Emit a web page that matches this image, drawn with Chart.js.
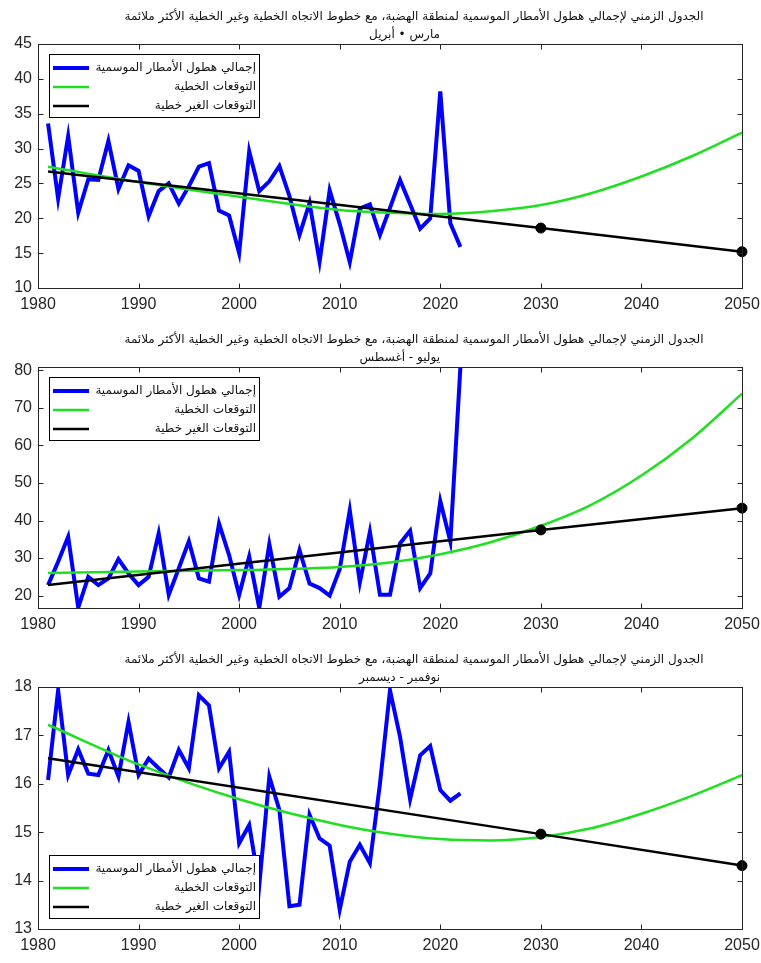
<!DOCTYPE html>
<html>
<head>
<meta charset="utf-8">
<script src="https://cdn.jsdelivr.net/npm/chart.js@4.4.1/dist/chart.umd.min.js"></script>
<style>
  html, body { margin: 0; padding: 0; background: #ffffff; }
  #wrap { position: relative; width: 761px; height: 963px; overflow: hidden; }
  #wrap canvas { position: absolute; left: 0; }
</style>
</head>
<body>
<div id="wrap">
  <canvas id="c1" width="761" height="320" style="top:0px"></canvas>
  <canvas id="c2" width="761" height="320" style="top:320px"></canvas>
  <canvas id="c3" width="761" height="323" style="top:640px"></canvas>
</div>
<script>
// ---- observed seasons ----
const years = [1981,1982,1983,1984,1985,1986,1987,1988,1989,1990,
               1991,1992,1993,1994,1995,1996,1997,1998,1999,2000,
               2001,2002,2003,2004,2005,2006,2007,2008,2009,2010,
               2011,2012,2013,2014,2015,2016,2017,2018,2019,2020,
               2021,2022];

// March - April seasonal totals
const marAprTotal = [33.6,22.8,31.8,20.8,25.6,25.5,31.1,24.2,27.6,26.8,
                     20.3,23.9,25.0,22.1,24.6,27.4,27.9,21.1,20.4,15.0,
                     29.6,23.9,25.3,27.5,23.2,17.6,22.2,13.8,24.0,19.2,
                     13.7,21.4,22.0,17.6,21.5,25.5,22.0,18.5,20.0,38.2,
                     19.3,15.9];

// July - August seasonal totals
const julAugTotal = [22.8,29.0,35.7,16.8,25.0,22.8,24.6,29.7,25.9,22.8,
                     25.0,36.6,20.2,27.3,34.5,24.6,23.7,39.2,30.8,20.2,
                     30.4,16.7,33.7,19.7,22.0,32.1,23.2,22.0,20.0,27.0,
                     42.7,23.5,37.0,20.2,20.2,33.9,37.3,22.0,25.9,45.2,
                     34.4,80.9];

// November - December seasonal totals
const novDecTotal = [16.08,17.93,16.18,16.71,16.21,16.18,16.70,16.15,17.28,16.18,
                     16.52,16.32,16.13,16.70,16.32,17.83,17.62,16.32,16.66,14.77,
                     15.15,13.90,16.15,15.46,13.47,13.50,15.36,14.87,14.72,13.40,
                     14.39,14.74,14.36,16.00,17.93,16.97,15.68,16.59,16.78,15.87,
                     15.65,15.80];

// ---- fitted curve (green) ----
const curveYears = [1981,1990,2000,2010,2015,2020,2025,2030,2035,2040,2045,2050];
const marAprCurve = [27.4,25.2,23.1,21.2,20.8,20.6,21.0,21.9,23.6,26.0,28.9,32.3];
const julAugCurve = [26.0,26.4,26.8,27.6,28.8,31.0,34.2,38.6,44.2,52.0,61.8,73.8];
const novDecCurve = [17.22,16.40,15.68,15.15,14.97,14.86,14.83,14.90,15.08,15.38,15.75,16.18];

// ---- straight trend (black), marked at the projection years ----
const trendYears = [1981,2030,2050];
const markedYears = [2030,2050];
const marAprTrend = [26.7,18.6,15.2];
const julAugTrend = [22.8,37.5,43.3];
const novDecTrend = [16.53,14.96,14.31];

// ---- axes ----
const xTicks = [1980,1990,2000,2010,2020,2030,2040,2050];
const marAprTicks = [10,15,20,25,30,35,40,45];
const julAugTicks = [20,30,40,50,60,70,80];
const novDecTicks = [13,14,15,16,17,18];

// ---- text ----
const mainTitle = 'الجدول الزمني لإجمالي هطول الأمطار الموسمية لمنطقة الهضبة، مع خطوط الاتجاه الخطية وغير الخطية الأكثر ملائمة';
const seasonNames = ['مارس • أبريل', 'يوليو - أغسطس', 'نوفمبر - ديسمبر'];
const seriesNames = ['إجمالي هطول الأمطار الموسمية', 'التوقعات الخطية', 'التوقعات الغير خطية'];

const AXIS_COLOR = '#262626';
const NUM_FONT = '"Liberation Sans", Arial, sans-serif';
const AR_FONT = '"DejaVu Sans", "Noto Sans", sans-serif';

const pairs = (xs, ys) => xs.map((x, i) => ({ x: x, y: ys[i] }));

// Box with inward ticks on all four sides, legend box, two-line heading
const panelDecor = {
  id: 'panelDecor',
  afterDatasetsDraw(chart, args, opts) {
    const ctx = chart.ctx;
    const a = chart.chartArea;
    const xs = chart.scales.x, ys = chart.scales.y;
    const L = Math.round(a.left) + 0.5, R = Math.round(a.right) + 0.5;
    const T = Math.round(a.top) + 0.5, B = Math.round(a.bottom) + 0.5;
    ctx.save();

    // legend
    const lgTop = opts.legendAtBottom ? Math.round(a.bottom) - 11 - 63 : Math.round(a.top) + 10;
    const lgLeft = 49.5, lgRight = 259.5, lgH = 63;
    ctx.fillStyle = '#ffffff';
    ctx.fillRect(lgLeft, lgTop + 0.5, lgRight - lgLeft, lgH);
    ctx.strokeStyle = '#000000';
    ctx.lineWidth = 1;
    ctx.strokeRect(lgLeft, lgTop + 0.5, lgRight - lgLeft, lgH);
    chart.data.datasets.forEach((ds, i) => {
      const rowY = lgTop + 14 + i * 19;
      ctx.strokeStyle = ds.borderColor;
      ctx.lineWidth = ds.borderWidth;
      ctx.beginPath();
      ctx.moveTo(53, rowY);
      ctx.lineTo(89, rowY);
      ctx.stroke();
      ctx.fillStyle = '#111111';
      ctx.font = '12px ' + AR_FONT;
      ctx.direction = 'rtl';
      ctx.textAlign = 'right';
      ctx.textBaseline = 'middle';
      ctx.fillText(ds.label, 256, rowY);
    });

    // frame
    ctx.strokeStyle = AXIS_COLOR;
    ctx.lineWidth = 1;
    ctx.strokeRect(L, T, R - L, B - T);
    const tl = 5;
    ctx.beginPath();
    xs.ticks.forEach(t => {
      const px = Math.round(xs.getPixelForValue(t.value)) + 0.5;
      ctx.moveTo(px, B); ctx.lineTo(px, B - tl);
      ctx.moveTo(px, T); ctx.lineTo(px, T + tl);
    });
    ys.ticks.forEach(t => {
      const py = Math.round(ys.getPixelForValue(t.value)) + 0.5;
      ctx.moveTo(L, py); ctx.lineTo(L + tl, py);
      ctx.moveTo(R, py); ctx.lineTo(R - tl, py);
    });
    ctx.stroke();

    // heading
    ctx.fillStyle = '#111111';
    ctx.font = '12px ' + AR_FONT;
    ctx.direction = 'rtl';
    ctx.textBaseline = 'middle';
    ctx.textAlign = 'center';
    ctx.fillText(mainTitle, 414, a.top - 27);
    ctx.textAlign = 'right';
    ctx.fillText(opts.season, 440, a.top - 9);
    ctx.restore();
  }
};

function makePanel(canvasId, cfg) {
  const canvas = document.getElementById(canvasId);
  const H = canvas.height;
  return new Chart(canvas, {
    type: 'line',
    data: {
      datasets: [
        {
          label: seriesNames[0],
          data: pairs(years, cfg.total),
          borderColor: '#0000ff',
          borderWidth: 4,
          pointRadius: 0,
          tension: 0,
          order: 3
        },
        {
          label: seriesNames[1],
          data: pairs(curveYears, cfg.curve),
          borderColor: '#1fe01f',
          borderWidth: 2.5,
          pointRadius: 0,
          cubicInterpolationMode: 'monotone',
          order: 2
        },
        {
          label: seriesNames[2],
          data: pairs(trendYears, cfg.trend),
          borderColor: '#000000',
          backgroundColor: '#000000',
          borderWidth: 2.5,
          pointRadius: c => (c.raw && markedYears.includes(c.raw.x)) ? 5 : 0,
          pointBackgroundColor: '#000000',
          pointBorderColor: '#000000',
          pointBorderWidth: 1,
          tension: 0,
          clip: false,
          order: 1
        }
      ]
    },
    options: {
      responsive: false,
      animation: false,
      events: [],
      layout: { autoPadding: false, padding: { top: cfg.top, right: 19, left: 0, bottom: 0 } },
      plugins: {
        legend: { display: false },
        tooltip: { enabled: false },
        title: { display: false },
        panelDecor: { season: cfg.season, legendAtBottom: cfg.legendAtBottom }
      },
      scales: {
        x: {
          type: 'linear',
          min: 1980, max: 2050,
          afterBuildTicks: s => { s.ticks = xTicks.map(v => ({ value: v })); },
          afterFit: s => { s.height = H - cfg.bottom; s.paddingLeft = 0; s.paddingRight = 0; },
          grid: { display: false, drawTicks: false },
          border: { display: false },
          ticks: {
            callback: v => String(v),
            color: AXIS_COLOR,
            font: { family: NUM_FONT, size: 16 },
            padding: 7,
            maxRotation: 0,
            autoSkip: false
          }
        },
        y: {
          type: 'linear',
          min: cfg.yMin, max: cfg.yMax,
          afterBuildTicks: s => { s.ticks = cfg.yTicks.map(v => ({ value: v })); },
          afterFit: s => { s.width = 38; s.paddingTop = 0; s.paddingBottom = 0; },
          grid: { display: false, drawTicks: false },
          border: { display: false },
          ticks: {
            callback: v => String(v),
            color: AXIS_COLOR,
            font: { family: NUM_FONT, size: 16 },
            padding: 6,
            autoSkip: false
          }
        }
      }
    },
    plugins: [panelDecor]
  });
}

makePanel('c1', { total: marAprTotal, curve: marAprCurve, trend: marAprTrend,
  yMin: 10, yMax: 45, yTicks: marAprTicks, top: 44, bottom: 288,
  season: seasonNames[0], legendAtBottom: false });
makePanel('c2', { total: julAugTotal, curve: julAugCurve, trend: julAugTrend,
  yMin: 16.7, yMax: 80.9, yTicks: julAugTicks, top: 47, bottom: 288,
  season: seasonNames[1], legendAtBottom: false });
makePanel('c3', { total: novDecTotal, curve: novDecCurve, trend: novDecTrend,
  yMin: 13, yMax: 18, yTicks: novDecTicks, top: 47, bottom: 289,
  season: seasonNames[2], legendAtBottom: true });
</script>
</body>
</html>
